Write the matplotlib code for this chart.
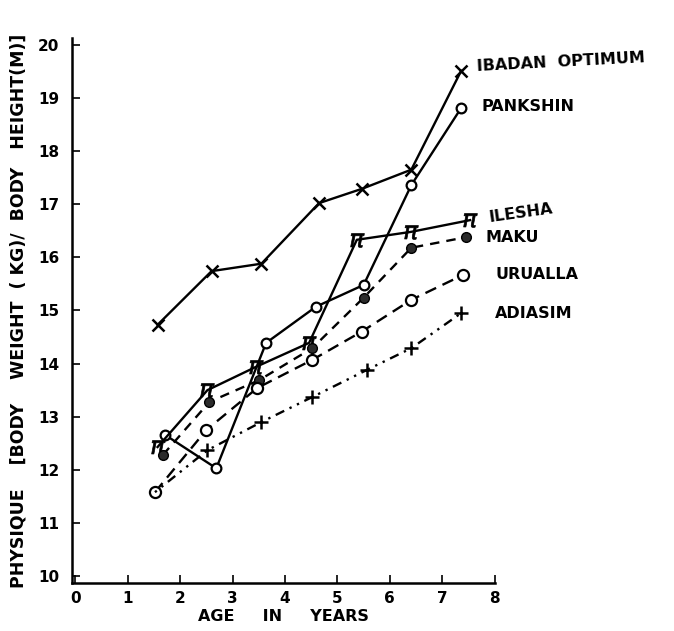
import matplotlib
matplotlib.use("Agg")
import matplotlib.pyplot as plt

# ---- data ----
ibadan_x = [1.57, 2.60, 3.55, 4.65, 5.47, 6.41, 7.36]
ibadan_y = [14.73, 15.74, 15.88, 17.02, 17.29, 17.65, 19.51]

pankshin_x = [1.71, 2.69, 3.64, 4.59, 5.50, 6.41, 7.36]
pankshin_y = [12.66, 12.03, 14.39, 15.07, 15.48, 17.36, 18.81]

ilesha_x = [1.57, 2.52, 3.45, 4.46, 5.37, 6.41, 7.53]
ilesha_y = [12.43, 13.50, 13.94, 14.39, 16.33, 16.48, 16.70]

maku_x = [1.67, 2.56, 3.51, 4.52, 5.50, 6.41, 7.46]
maku_y = [12.28, 13.28, 13.69, 14.29, 15.24, 16.18, 16.38]

uralla_x = [1.52, 2.50, 3.47, 4.52, 5.46, 6.41, 7.40]
uralla_y = [11.58, 12.75, 13.54, 14.07, 14.60, 15.20, 15.67]

adiasim_x = [1.52, 2.52, 3.55, 4.52, 5.56, 6.41, 7.36]
adiasim_y = [11.58, 12.37, 12.90, 13.37, 13.88, 14.29, 14.95]

x_ticks = [0, 1, 2, 3, 4, 5, 6, 7, 8]
y_ticks = [10, 11, 12, 13, 14, 15, 16, 17, 18, 19, 20]

series_labels = ["IBADAN  OPTIMUM", "PANKSHIN", "ILESHA", "MAKU", "URUALLA", "ADIASIM"]
label_pos = [(7.65, 19.68, 3), (7.74, 18.83, 0), (7.87, 16.84, 8),
             (7.82, 16.37, 0), (8.01, 15.67, 0), (8.01, 14.95, 0)]

plt.rcParams['font.family'] = ['DejaVu Sans']

fig = plt.figure(figsize=(6.74, 6.31), dpi=100)
ax = fig.add_axes([0.107, 0.076, 0.627, 0.864])

lw = 1.7
k = 'black'
ax.plot(ibadan_x, ibadan_y, '-', color=k, lw=lw, marker='x', ms=8, mew=1.8)
ax.plot(pankshin_x, pankshin_y, '-', color=k, lw=lw, marker='o', ms=7,
        mfc='white', mec=k, mew=1.6)
ax.plot(ilesha_x, ilesha_y, '-', color=k, lw=lw, marker=r'$\pi$', ms=10, mew=0.5)
ax.plot(maku_x, maku_y, color=k, lw=lw, ls=(0, (4, 3)), marker='o', ms=7,
        mfc='#2b2b2b', mec=k)
ax.plot(uralla_x, uralla_y, color=k, lw=lw, ls=(0, (5, 3)), marker='o', ms=8,
        mfc='white', mec=k, mew=1.6)
ax.plot(adiasim_x, adiasim_y, color=k, lw=lw, ls=(0, (1, 2.5, 1, 2.5, 4, 2.5)),
        marker='+', ms=10, mew=1.8, markevery=list(range(1, len(adiasim_x))))

for txt, (tx, ty, rot) in zip(series_labels, label_pos):
    ax.text(tx, ty, txt, fontsize=11.5, fontweight='bold', ha='left', va='center',
            rotation=rot, clip_on=False)

ax.set_xlim(-0.06, 7.97)
ax.set_ylim(9.87, 20.13)
ax.set_xticks(x_ticks)
ax.set_yticks(y_ticks)
ax.set_xticklabels([str(v) for v in x_ticks], fontsize=11, fontweight='bold')
ax.set_yticklabels([str(v) for v in y_ticks], fontsize=11, fontweight='bold')
ax.tick_params(axis='x', direction='in', length=6, width=1.2, pad=6)
ax.tick_params(axis='y', direction='in', length=6, width=1.2, pad=9)
for s in ['top', 'right']:
    ax.spines[s].set_visible(False)
for s in ['left', 'bottom']:
    ax.spines[s].set_linewidth(1.8)

ax.set_xlabel("AGE     IN     YEARS", fontsize=11.5, fontweight='bold', labelpad=2)
ax.set_ylabel("PHYSIQUE    [BODY    WEIGHT  ( KG)/  BODY   HEIGHT(M)]",
              fontsize=12.5, fontweight='bold', labelpad=8)

fig.savefig("out.png", dpi=100, facecolor='white')
